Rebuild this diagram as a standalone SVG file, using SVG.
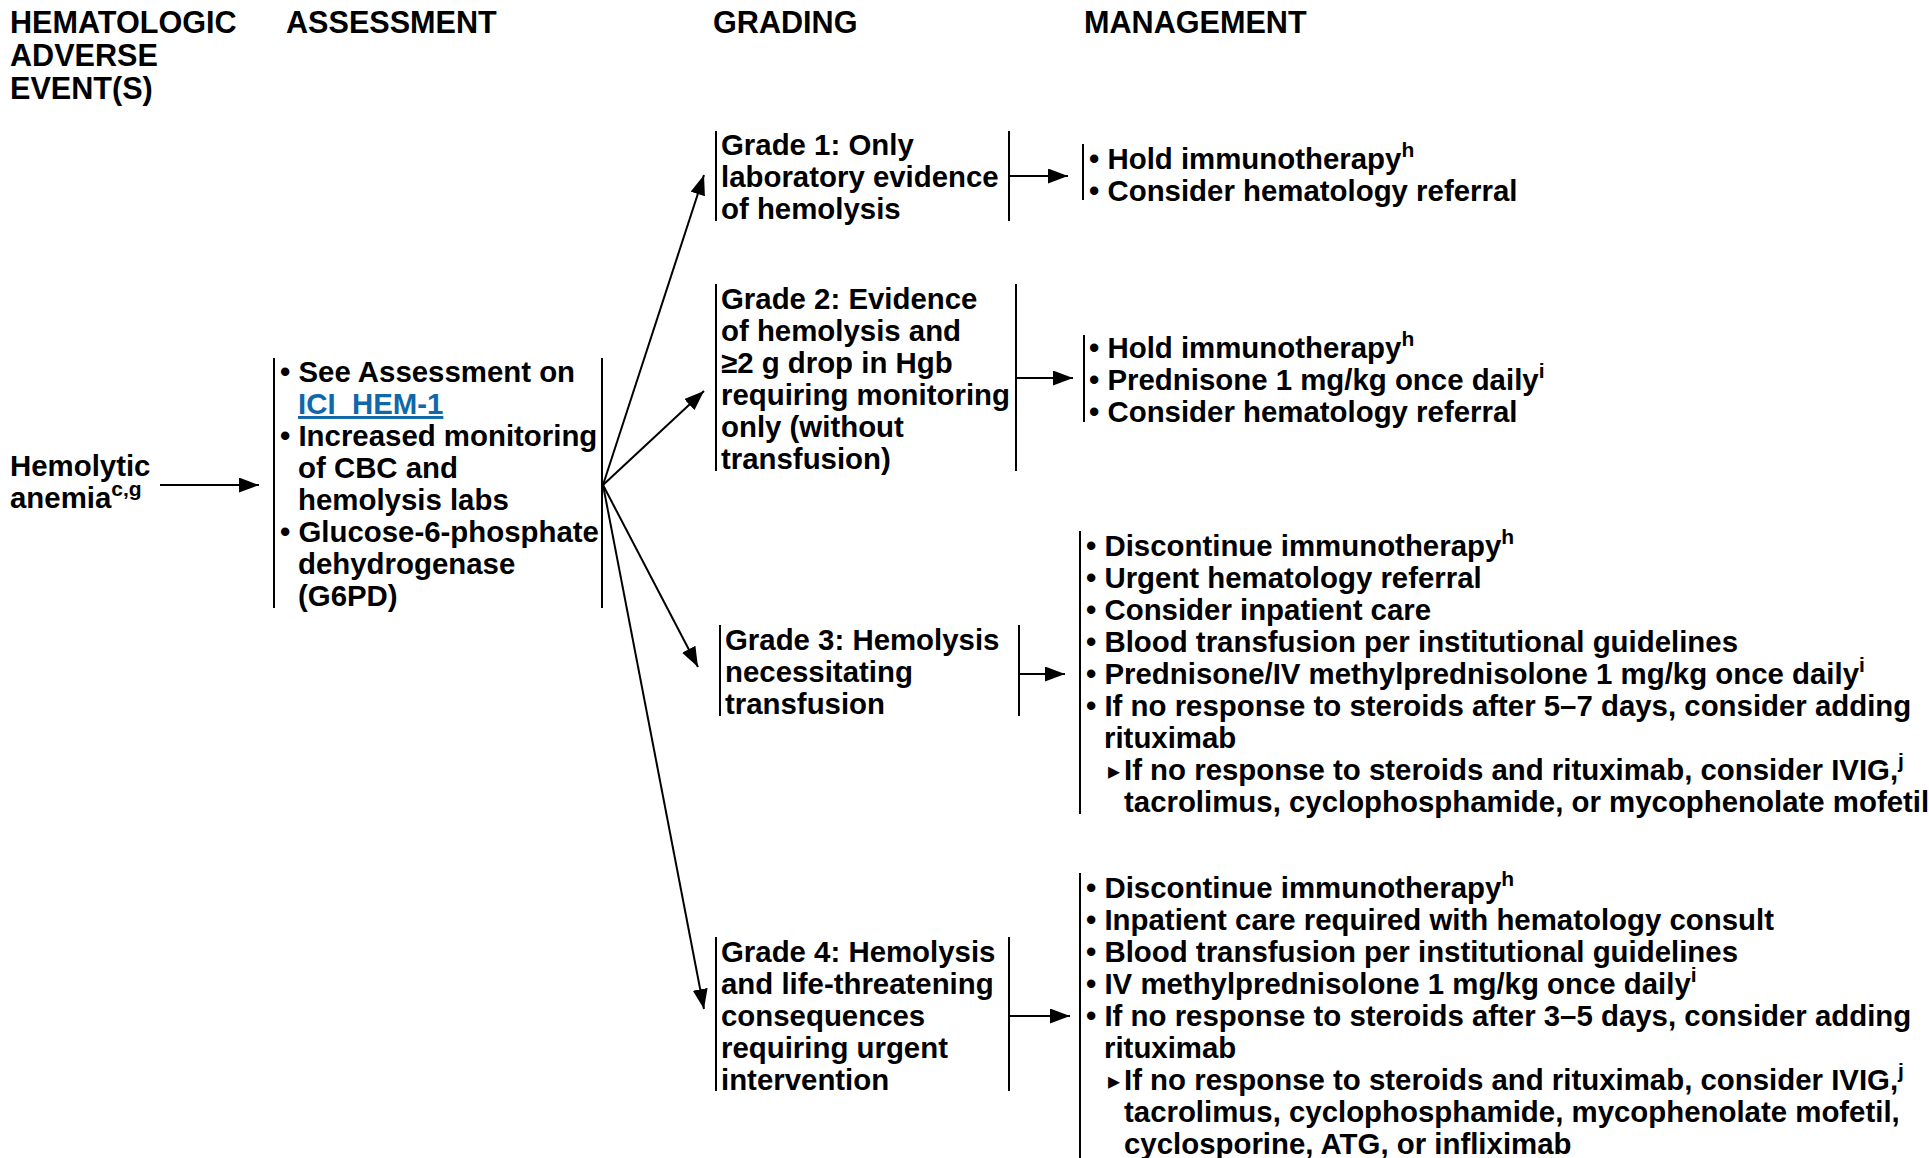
<svg xmlns="http://www.w3.org/2000/svg" width="1929" height="1158" viewBox="0 0 1929 1158">
  <style>
    text { font-family: "Liberation Sans", Arial, Helvetica, sans-serif; font-weight: bold; font-size: 29.4px; fill: #000; }
    .head { font-size: 30.6px; }
    .sup { font-size: 21px; }
    .link { fill: #1168a8; text-decoration: underline; }
    .tri { font-family: "DejaVu Sans", sans-serif; font-size: 24px; }
    .bar { stroke: #000; stroke-width: 2; fill: none; }
    .conn { stroke: #000; stroke-width: 2; fill: none; marker-end: url(#arrow); }
  </style>
  <defs>
    <marker id="arrow" markerUnits="userSpaceOnUse" markerWidth="22" markerHeight="16" refX="20" refY="7.5" orient="auto">
      <path d="M0,0 L20,7.5 L0,15 z" fill="#000"/>
    </marker>
  </defs>
  <rect width="1929" height="1158" fill="#fff"/>

  <!-- column headings -->
  <g id="headings">
    <text class="head" x="10" y="33">HEMATOLOGIC</text>
    <text class="head" x="10" y="66">ADVERSE</text>
    <text class="head" x="10" y="99">EVENT(S)</text>
    <text class="head" x="286" y="33">ASSESSMENT</text>
    <text class="head" x="713" y="33">GRADING</text>
    <text class="head" x="1084" y="33">MANAGEMENT</text>
  </g>

  <!-- adverse event -->
  <g id="event">
    <text x="10" y="476">Hemolytic</text>
    <text x="10" y="508">anemia<tspan class="sup" dy="-12">c,g</tspan></text>
  </g>

  <!-- assessment -->
  <g id="assessment">
    <line class="bar" x1="274" y1="358" x2="274" y2="608"/>
    <line class="bar" x1="602" y1="358" x2="602" y2="608"/>
    <text x="280" y="382">• See Assessment on</text>
    <text class="link" x="298" y="414">ICI_HEM-1</text>
    <text x="280" y="446">• Increased monitoring</text>
    <text x="298" y="478">of CBC and</text>
    <text x="298" y="510">hemolysis labs</text>
    <text x="280" y="542">• Glucose-6-phosphate</text>
    <text x="298" y="574">dehydrogenase</text>
    <text x="298" y="606">(G6PD)</text>
  </g>

  <!-- grades -->
  <g id="grade1">
    <line class="bar" x1="716" y1="131" x2="716" y2="221"/>
    <line class="bar" x1="1009" y1="131" x2="1009" y2="221"/>
    <text x="721" y="155">Grade 1: Only</text>
    <text x="721" y="187">laboratory evidence</text>
    <text x="721" y="219">of hemolysis</text>
  </g>
  <g id="grade2">
    <line class="bar" x1="716" y1="284" x2="716" y2="471"/>
    <line class="bar" x1="1016" y1="284" x2="1016" y2="471"/>
    <text x="721" y="309">Grade 2: Evidence</text>
    <text x="721" y="341">of hemolysis and</text>
    <text x="721" y="373">≥2 g drop in Hgb</text>
    <text x="721" y="405">requiring monitoring</text>
    <text x="721" y="437">only (without</text>
    <text x="721" y="469">transfusion)</text>
  </g>
  <g id="grade3">
    <line class="bar" x1="720" y1="625" x2="720" y2="716"/>
    <line class="bar" x1="1019" y1="625" x2="1019" y2="716"/>
    <text x="725" y="650">Grade 3: Hemolysis</text>
    <text x="725" y="682">necessitating</text>
    <text x="725" y="714">transfusion</text>
  </g>
  <g id="grade4">
    <line class="bar" x1="716" y1="937" x2="716" y2="1091"/>
    <line class="bar" x1="1009" y1="937" x2="1009" y2="1091"/>
    <text x="721" y="962">Grade 4: Hemolysis</text>
    <text x="721" y="994">and life-threatening</text>
    <text x="721" y="1026">consequences</text>
    <text x="721" y="1058">requiring urgent</text>
    <text x="721" y="1090">intervention</text>
  </g>

  <!-- management -->
  <g id="management1">
    <line class="bar" x1="1083" y1="144" x2="1083" y2="200"/>
    <text x="1089" y="169">• Hold immunotherapy<tspan class="sup" dy="-12">h</tspan></text>
    <text x="1089" y="201">• Consider hematology referral</text>
  </g>
  <g id="management2">
    <line class="bar" x1="1084" y1="335" x2="1084" y2="422"/>
    <text x="1089" y="358">• Hold immunotherapy<tspan class="sup" dy="-12">h</tspan></text>
    <text x="1089" y="390">• Prednisone 1 mg/kg once daily<tspan class="sup" dy="-12">i</tspan></text>
    <text x="1089" y="422">• Consider hematology referral</text>
  </g>
  <g id="management3">
    <line class="bar" x1="1080" y1="531" x2="1080" y2="814"/>
    <text x="1086" y="556">• Discontinue immunotherapy<tspan class="sup" dy="-12">h</tspan></text>
    <text x="1086" y="588">• Urgent hematology referral</text>
    <text x="1086" y="620">• Consider inpatient care</text>
    <text x="1086" y="652">• Blood transfusion per institutional guidelines</text>
    <text x="1086" y="684">• Prednisone/IV methylprednisolone 1 mg/kg once daily<tspan class="sup" dy="-12">i</tspan></text>
    <text x="1086" y="716">• If no response to steroids after 5–7 days, consider adding</text>
    <text x="1104" y="748">rituximab</text>
    <text class="tri" x="1108" y="779">▸</text>
    <text x="1124" y="780">If no response to steroids and rituximab, consider IVIG,<tspan class="sup" dy="-12">j</tspan></text>
    <text x="1124" y="812">tacrolimus, cyclophosphamide, or mycophenolate mofetil</text>
  </g>
  <g id="management4">
    <line class="bar" x1="1080" y1="873" x2="1080" y2="1158"/>
    <text x="1086" y="898">• Discontinue immunotherapy<tspan class="sup" dy="-12">h</tspan></text>
    <text x="1086" y="930">• Inpatient care required with hematology consult</text>
    <text x="1086" y="962">• Blood transfusion per institutional guidelines</text>
    <text x="1086" y="994">• IV methylprednisolone 1 mg/kg once daily<tspan class="sup" dy="-12">i</tspan></text>
    <text x="1086" y="1026">• If no response to steroids after 3–5 days, consider adding</text>
    <text x="1104" y="1058">rituximab</text>
    <text class="tri" x="1108" y="1089">▸</text>
    <text x="1124" y="1090">If no response to steroids and rituximab, consider IVIG,<tspan class="sup" dy="-12">j</tspan></text>
    <text x="1124" y="1122">tacrolimus, cyclophosphamide, mycophenolate mofetil,</text>
    <text x="1124" y="1154">cyclosporine, ATG, or infliximab</text>
  </g>

  <!-- connectors -->
  <g id="connectors">
    <line class="conn" x1="160" y1="485" x2="259" y2="485"/>
    <line class="conn" x1="603" y1="485" x2="704" y2="175"/>
    <line class="conn" x1="603" y1="485" x2="704" y2="391"/>
    <line class="conn" x1="603" y1="485" x2="698" y2="667"/>
    <line class="conn" x1="603" y1="485" x2="704" y2="1009"/>
    <line class="conn" x1="1010" y1="176" x2="1068" y2="176"/>
    <line class="conn" x1="1017" y1="378" x2="1073" y2="378"/>
    <line class="conn" x1="1020" y1="674" x2="1065" y2="674"/>
    <line class="conn" x1="1010" y1="1016" x2="1070" y2="1016"/>
  </g>
</svg>
